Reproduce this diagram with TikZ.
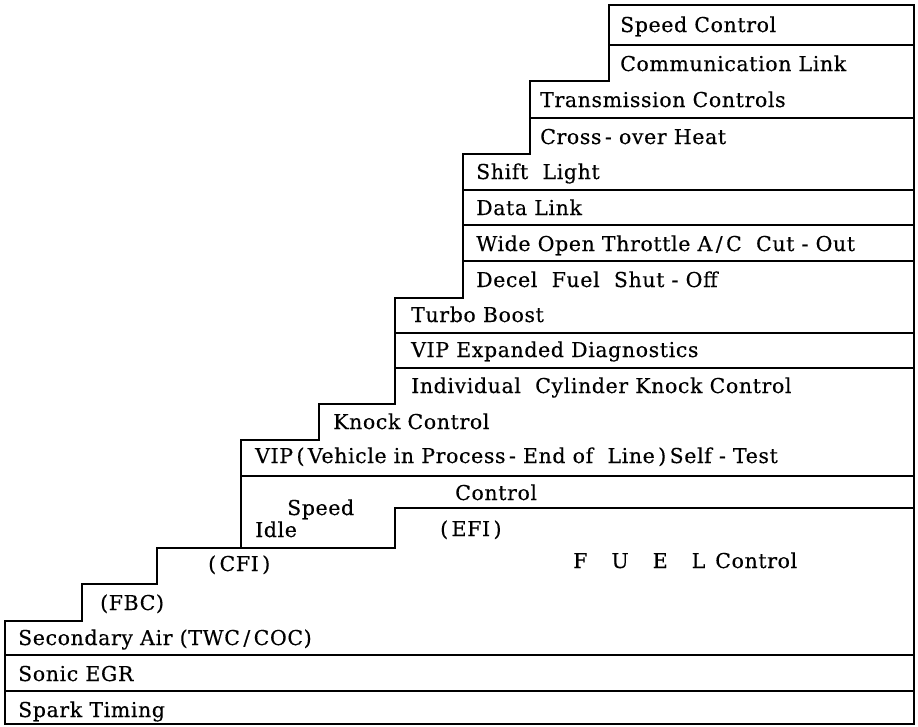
\documentclass[tikz,border=0pt]{standalone}
\usepackage{fontspec}
\setmainfont{DejaVu Serif}[LetterSpace=3,FakeBold=0.4]
\begin{document}
\begin{tikzpicture}[x=1pt,y=-1pt,
  lbl/.style={anchor=base west,inner sep=0pt,font=\fontsize{20.5}{22}\selectfont},
  edge/.style={line width=1.8pt,line join=miter}]
\useasboundingbox (0,0) rectangle (918,726);
% outline staircase
\draw[edge] (5,724) -- (5,621) -- (82,621) -- (82,584) -- (157,584) -- (157,548)
  -- (241,548) -- (241,440) -- (319,440) -- (319,404) -- (395,404) -- (395,298)
  -- (463,298) -- (463,154) -- (530,154) -- (530,81) -- (609,81) -- (609,5)
  -- (914,5) -- (914,724) -- cycle;
% row lines
\draw[edge] (609,45) -- (914,45);
\draw[edge] (530,118) -- (914,118);
\draw[edge] (463,190) -- (914,190);
\draw[edge] (463,225) -- (914,225);
\draw[edge] (463,261) -- (914,261);
\draw[edge] (395,333) -- (914,333);
\draw[edge] (395,368) -- (914,368);
\draw[edge] (241,476) -- (914,476);
\draw[edge] (241,548) -- (395,548) -- (395,508) -- (914,508);
\draw[edge] (5,655) -- (914,655);
\draw[edge] (5,691) -- (914,691);
% labels
\node[lbl] (t1) at (620,32) {Speed Control};
\node[lbl] (t2) at (620,71) {Communication Link};
\node[lbl] (t3) at (540,107) {Transmission Controls};
\node[lbl] (t4) at (540,144) {Cross\,-\ over Heat};
\node[lbl] (t5) at (476,179) {Shift\ \ Light};
\node[lbl] (t6) at (476,215) {Data Link};
\node[lbl] (t7) at (476,251) {Wide Open Throttle A\,/\,C\ \ Cut\ -\ Out};
\node[lbl] (t8) at (476,287) {Decel\ \ Fuel\ \ Shut\ -\ Off};
\node[lbl] (t9) at (411,322) {Turbo Boost};
\node[lbl] (t10) at (411,357) {VIP Expanded Diagnostics};
\node[lbl] (t11) at (411,393) {Individual\ \ Cylinder\ Knock Control};
\node[lbl] (t12) at (333,429) {Knock Control};
\node[lbl] (t13) at (255,463) {VIP\,(\,Vehicle in Process\,-\ End of\ \ Line\,)\,Self\ -\ Test};
\node[lbl] (t14) at (287,515) {Speed};
\node[lbl] (t15) at (255,537) {Idle};
\node[lbl] (t16) at (455,500) {Control};
\node[lbl] (t17) at (440,536) {(\,EFI\,)};
\node[lbl] (t18) at (208,571) {(\,CFI\,)};
\node[lbl] (t19) at (100,610) {(FBC)};
\node[lbl] (t20) at (573,568) {F\hspace{24pt}U\hspace{24pt}E\hspace{24pt}L\hspace{10pt}Control};
\node[lbl] (t21) at (18,645) {Secondary Air\ (TWC\,/\,COC)};
\node[lbl] (t22) at (18,681) {Sonic EGR};
\node[lbl] (t23) at (18,717) {Spark Timing};
\end{tikzpicture}
\end{document}
